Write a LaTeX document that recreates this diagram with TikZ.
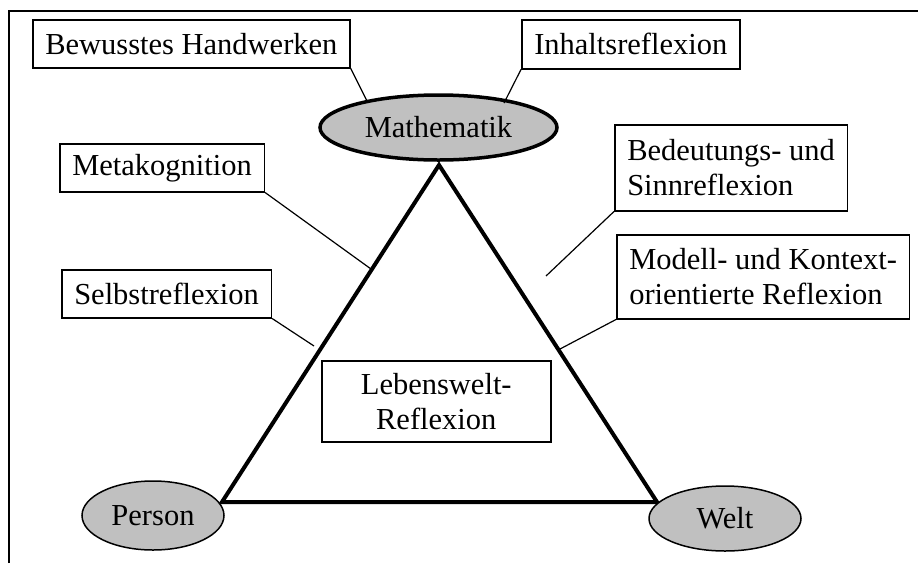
\documentclass[tikz,border=0pt]{standalone}
\usepackage{fontspec}
\setmainfont{Liberation Serif}
\usetikzlibrary{shapes.geometric}
\definecolor{fillgray}{HTML}{C0C0C0}
\tikzset{
  lbl/.style={draw, line width=1.5pt, inner xsep=12.5pt, inner ysep=0pt, anchor=north west, align=left,
    font=\fontsize{30.5}{35}\selectfont},
  oval/.style={ellipse, draw, fill=fillgray, inner sep=0pt, font=\fontsize{30.5}{35}\selectfont},
  conn/.style={line width=1.2pt},
  tri/.style={line width=4pt, line join=miter},
  frame/.style={line width=2pt}
}
\begin{document}
\begin{tikzpicture}[x=1pt,y=-1pt]
\useasboundingbox (0,0) rectangle (918,563);
% frame
\coordinate (fr1) at (9,563);
\coordinate (fr2) at (9,11);
\coordinate (fr3) at (918,11);
\draw[frame] (fr1) -- (fr2) -- (fr3);
% triangle
\coordinate (ta) at (439,165);
\coordinate (tl) at (222,502);
\coordinate (tr) at (657,502);
\draw[tri] (ta) -- (tl) -- (tr) -- cycle;
% ellipses
\node[oval, line width=3.5pt, minimum width=237pt, minimum height=65pt] (math) at (438.5,127.5) {Mathematik};
\node[oval, line width=1.5pt, minimum width=142pt, minimum height=69pt] (person) at (153,515.5) {Person};
\node[oval, line width=1.5pt, minimum width=152pt, minimum height=65pt] (welt) at (725,518.5) {Welt};
% boxes
\node[lbl, minimum height=48pt] (bew) at (32,19) {Bewusstes Handwerken};
\node[lbl, minimum height=49pt] (inh) at (521,19) {Inhaltsreflexion};
\node[lbl, minimum height=48pt] (meta) at (59,143) {Metakognition};
\node[lbl, minimum height=48pt] (selbst) at (61,269) {Selbstreflexion};
\node[lbl, minimum height=86pt] (bed) at (614,124) {Bedeutungs- und\\Sinnreflexion};
\node[lbl, minimum height=84pt] (mod) at (616,234) {Modell- und Kontext-\\orientierte Reflexion};
\node[lbl, align=center, minimum width=229pt, minimum height=81pt] (leb) at (321,360) {Lebenswelt-\\Reflexion};
% connectors
\coordinate (c1) at (367,101);
\coordinate (c2) at (504,103);
\coordinate (c3) at (371,269);
\coordinate (c4) at (314,346);
\coordinate (c5) at (546,276);
\coordinate (c6) at (560,349);
\draw[conn] (bew.south east) -- (c1);
\draw[conn] (inh.south west) -- (c2);
\draw[conn] (meta.south east) -- (c3);
\draw[conn] (selbst.south east) -- (c4);
\draw[conn] (bed.south west) -- (c5);
\draw[conn] (mod.south west) -- (c6);
\end{tikzpicture}
\end{document}
